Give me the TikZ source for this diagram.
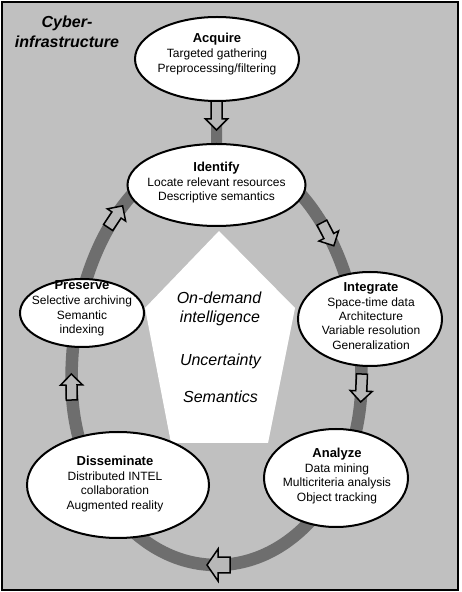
\documentclass[tikz,border=0pt]{standalone}
\usepackage{fontspec}
\setmainfont{Liberation Sans}
\usetikzlibrary{shapes.geometric}
\definecolor{bgc}{HTML}{C0C0C0}
\definecolor{ringc}{HTML}{6E6E6E}
\definecolor{arrc}{HTML}{B8B8B8}
\tikzset{
  arrowbox/.style={draw=black, fill=arrc, line width=1.5pt, line join=miter}
}
% #1 position, #2 angle, #3 tail length, #4 width scale
\newcommand\myblockarrow[4]{%
  \filldraw[arrowbox, shift={#1}, rotate=#2, yscale=#4]
     (-#3,-5.5)--(0,-5.5)--(0,-11)--(11,0)--(0,11)--(0,5.5)--(-#3,5.5)--cycle;}
\begin{document}
\begin{tikzpicture}[x=1pt,y=1pt,
  oval/.style={ellipse, draw=black, line width=2pt, fill=white, inner sep=0pt, outer sep=0pt},
  txt/.style={align=center, font=\fontsize{12}{14.3}\selectfont, inner sep=0pt},
  bigtxt/.style={font=\fontsize{16}{19}\selectfont\itshape, inner sep=0pt, anchor=base},
  band/.style={draw=ringc, line width=12.5pt}]
\useasboundingbox (0,0) rectangle (461,592);

% backdrop
\fill[white] (0,0) rectangle (461,592);
\draw[fill=bgc, line width=1.2pt] (2,2) rectangle (458,590);
\fill[white] (219,361) -- (145,284) -- (171,149) -- (268,149) -- (295,284) -- cycle;

% cycle ring
\draw[band] (71.5,212) arc[start angle=180, end angle=0, x radius=145, y radius=228]
                       arc[start angle=0, end angle=-180, x radius=145, y radius=185];

% link Acquire -> Identify
\coordinate (acqS) at (217,491);
\coordinate (idfN) at (216.5,448);
\draw[draw=ringc, line width=11pt] (acqS) -- (idfN);

% block arrows
\myblockarrow{(216.5,473)}{-90}{20}{1}
\myblockarrow{(328.8,356)}{-62.6}{15}{1}
\myblockarrow{(361.2,201)}{-92.7}{17}{1}
\myblockarrow{(218,27)}{180}{12}{1.45}
\myblockarrow{(71.5,207)}{91}{15}{1}
\myblockarrow{(116.5,377)}{56.3}{15}{1}

% ellipses
\node[oval, minimum width=164, minimum height=84] (acq) at (217,533) {};
\node[oval, minimum width=178, minimum height=82] (idf) at (216.5,407) {};
\node[oval, minimum width=124, minimum height=68] (prs) at (82,279) {};
\node[oval, minimum width=144, minimum height=94] (int) at (370,273) {};
\node[oval, minimum width=182, minimum height=106] (dis) at (118,107) {};
\node[oval, minimum width=144, minimum height=98] (ana) at (336,114) {};

% ellipse texts
\node[txt] (acqT) at (217,538) {{\fontsize{13}{15}\selectfont\bfseries Acquire}\\[0.7pt]Targeted gathering\\Preprocessing/filtering};
\node[txt] (idfT) at (216.5,409.5) {{\fontsize{13}{15}\selectfont\bfseries Identify}\\[0.7pt]Locate relevant resources\\Descriptive semantics};
\node[txt] (prsT) at (82,283.5) {{\fontsize{13}{15}\selectfont\bfseries Preserve}\\[0.7pt]Selective archiving\\Semantic\\indexing};
\node[txt] (intT) at (371,276.2) {{\fontsize{13}{15}\selectfont\bfseries Integrate}\\[0.7pt]Space-time data\\Architecture\\Variable resolution\\Generalization};
\node[txt] (disT) at (115,108) {{\fontsize{13}{15}\selectfont\bfseries Disseminate}\\[0.7pt]Distributed INTEL\\collaboration\\Augmented reality};
\node[txt] (anaT) at (337,116) {{\fontsize{13}{15}\selectfont\bfseries Analyze}\\[0.7pt]Data mining\\Multicriteria analysis\\Object tracking};

% corner label
\node[align=center, inner sep=0pt, font=\fontsize{16}{20}\selectfont\bfseries\itshape] (cyber) at (67,560) {Cyber-\\infrastructure};

% centre texts
\node[bigtxt] (od) at (219,288.3) {On-demand};
\node[bigtxt] (intel) at (220,269.3) {intelligence};
\node[bigtxt] (unc) at (220.5,226.3) {Uncertainty};
\node[bigtxt] (sem) at (220.5,189.3) {Semantics};
\end{tikzpicture}
\end{document}
